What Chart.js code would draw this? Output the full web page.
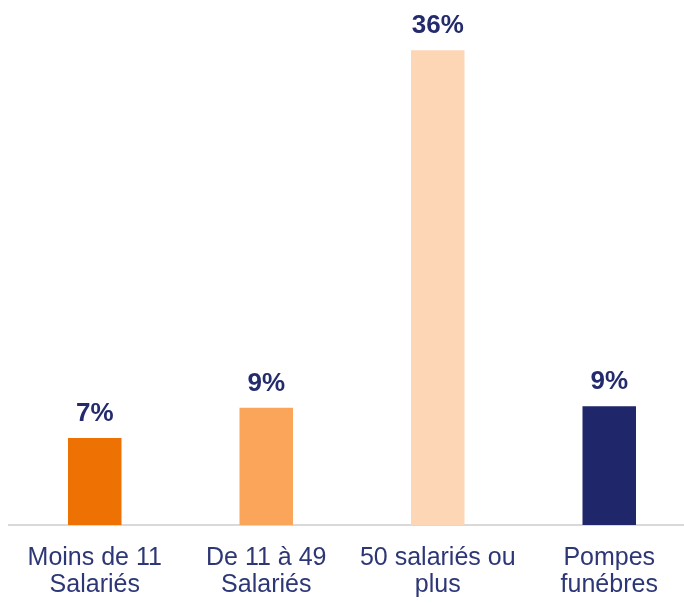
<!DOCTYPE html>
<html>
<head>
<meta charset="utf-8">
<script src="https://cdn.jsdelivr.net/npm/chart.js@4/dist/chart.umd.min.js"></script>
<style>
    html, body { margin: 0; padding: 0; background: #fff; overflow: hidden; }
    #wrap { position: absolute; left: 0; top: 0; width: 695px; height: 603px; }
</style>
</head>
<body>
<div id="wrap"><canvas id="viz"></canvas></div>
<script>
(function(Chart){

    // categories (two-line tick labels)
    var categories = [
        ['Moins de 11', 'Salariés'],
        ['De 11 à 49', 'Salariés'],
        ['50 salariés ou', 'plus'],
        ['Pompes', 'funébres']
    ];

    // share in percent
    var values = [6.6, 8.9, 36, 9.0];

    var barColors = ['#EE7203', '#FBA55B', '#FDD6B5', '#1F266A'];

    // draws the "7%" style labels above each bar
    var valueLabels = {
        id: 'valueLabels',
        afterDatasetsDraw: function(chart) {
            var ctx = chart.ctx;
            var meta = chart.getDatasetMeta(0);
            ctx.save();
            ctx.font = 'bold 26px "Liberation Sans", Arial, sans-serif';
            ctx.fillStyle = '#232B6C';
            ctx.textAlign = 'center';
            ctx.textBaseline = 'alphabetic';
            meta.data.forEach(function(bar, i) {
                ctx.fillText(Math.round(values[i]) + '%', bar.x, bar.y - 17);
            });
            ctx.restore();
        }
    };

    var ctx = document.getElementById('viz').getContext('2d');

    var chart = new Chart(ctx, {
        type: 'bar',
        data: {
            labels: categories,
            datasets: [{
                data: values,
                backgroundColor: barColors,
                borderWidth: 0,
                categoryPercentage: 1,
                barPercentage: 0.312
            }]
        },
        options: {
            responsive: true,
            maintainAspectRatio: false,
            animation: false,
            layout: {
                padding: { left: 9, right: 0, top: 24, bottom: 0 }
            },
            plugins: {
                legend: { display: false },
                tooltip: { enabled: false }
            },
            scales: {
                x: {
                    grid: { display: false, drawTicks: false },
                    border: { display: true, color: '#D9D9D9', width: 2 },
                    ticks: {
                        color: '#2D3776',
                        padding: 20,
                        font: { family: '"Liberation Sans", Arial, sans-serif', size: 25, lineHeight: 1.065 }
                    },
                    afterFit: function(scale) {
                        scale.height = 78;
                    }
                },
                y: {
                    display: false,
                    min: 0,
                    max: 38
                }
            }
        },
        plugins: [valueLabels]
    });

})(Chart);
</script>
</body>
</html>
